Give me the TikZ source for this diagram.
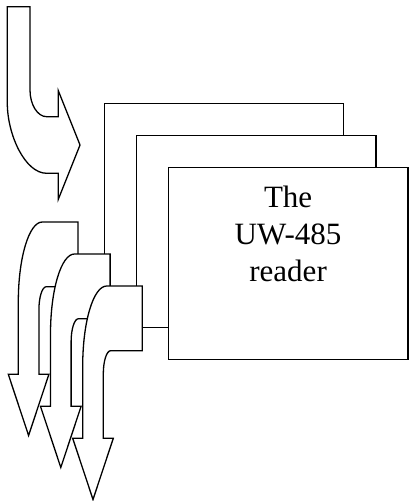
\documentclass[tikz,border=0pt]{standalone}
\usepackage{fontspec}
\setmainfont{Liberation Serif}
\usepackage{tikz}
\usetikzlibrary{positioning}
\tikzset{
  % reader card (stacked)
  rdbox/.style={rectangle, draw=black, fill=white, line width=1.3pt,
                minimum width=239.5pt, minimum height=191.7pt, anchor=north west, inner sep=0pt},
  % outline of the block arrows
  bandline/.style={draw=black, fill=white, line width=1.3pt, line join=miter},
  % label inside the front card
  rdlabel/.style={font=\fontsize{31}{37}\selectfont, align=center, inner sep=0pt},
  % band that bends from the card down into an arrow
  bendarrow/.pic={
    \draw[bandline] (0,0) -- (-35.6,0)
      .. controls (-48.9,0) and (-59.6,35.8) .. (-59.6,80)
      -- (-59.6,152.3) -- (-69.6,152.3) -- (-49.3,213.5) -- (-29,152.3)
      -- (-39,152.3) -- (-39,88)
      .. controls (-39,75.1) and (-35.7,64.7) .. (-31.6,64.7)
      -- (0,64.7) -- cycle;
  },
}
\begin{document}
\begin{tikzpicture}[x=1pt, y=-1pt]
  \useasboundingbox (0,0) rectangle (408,501);
  % stacked cards
  \node[rdbox] (box1) at (103.5,103) {};
  \node[rdbox] (box2) at (135.7,135) {};
  \node[rdbox] (box3) at (167.7,167) {};
  \node[rdlabel, anchor=north, below=19pt of box3.north] (lbl) {The\\UW-485\\reader};
  % arrows leaving the cards
  \pic (out1) at (77.9,222) {bendarrow};
  \pic (out2) at (110.1,254) {bendarrow};
  \pic (out3) at (142.3,286) {bendarrow};
  % arrow coming in
  \draw[bandline] (7.3,6.7) -- (30,6.7) -- (30,90)
    .. controls (30,104.7) and (37.5,116.7) .. (46.7,116.7)
    -- (58.3,116.7) -- (58.3,90.7) -- (80,145) -- (58.3,199.3) -- (58.3,173.3) -- (46.7,173.3)
    .. controls (24.9,173.3) and (7.3,134.5) .. (7.3,103) -- cycle;
\end{tikzpicture}
\end{document}
